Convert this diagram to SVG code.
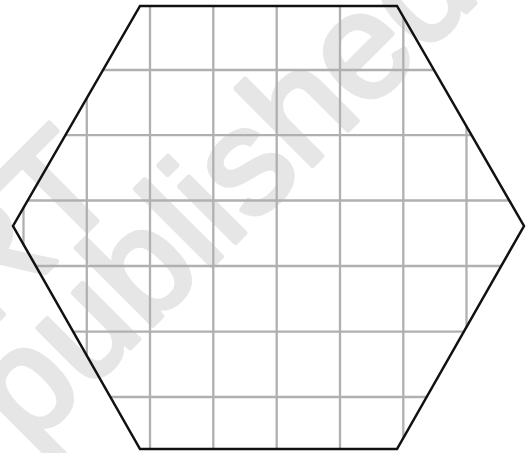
<svg xmlns="http://www.w3.org/2000/svg" width="528" height="453" viewBox="0 0 528 453">
<style>
.wm{font-family:"Liberation Sans",Arial,sans-serif;fill:#e6e6e6;stroke:#e6e6e6;stroke-width:5;stroke-linejoin:round}
.grid line{stroke:#b2afaf;stroke-width:2.3}
.hex{fill:none;stroke:#111;stroke-width:2.5;stroke-linejoin:miter}
</style>
<defs>
<clipPath id="hc"><polygon points="140,6 397,6 524,226 397,449 140,449 13,226"/></clipPath>
</defs>
<rect width="528" height="453" fill="#fff"/>
<g id="watermark">
<text class="wm" font-size="150" transform="translate(28,450) rotate(-45)">published</text>
<text class="wm" font-size="150" transform="translate(-15,333) rotate(-45)">RT</text>
</g>
<g class="grid" clip-path="url(#hc)">
<line x1="23.5" y1="0" x2="23.5" y2="453"/>
<line x1="86.8" y1="0" x2="86.8" y2="453"/>
<line x1="150" y1="0" x2="150" y2="453"/>
<line x1="213.3" y1="0" x2="213.3" y2="453"/>
<line x1="276.7" y1="0" x2="276.7" y2="453"/>
<line x1="340" y1="0" x2="340" y2="453"/>
<line x1="403.3" y1="0" x2="403.3" y2="453"/>
<line x1="466.5" y1="0" x2="466.5" y2="453"/>
<line x1="0" y1="70" x2="528" y2="70"/>
<line x1="0" y1="135.2" x2="528" y2="135.2"/>
<line x1="0" y1="200.5" x2="528" y2="200.5"/>
<line x1="0" y1="266" x2="528" y2="266"/>
<line x1="0" y1="331.7" x2="528" y2="331.7"/>
<line x1="0" y1="397" x2="528" y2="397"/>
</g>
<g id="hexagon">
<polygon class="hex" points="140,6 397,6 524,226 397,449 140,449 13,226"/>
</g>
<g id="connectors"></g>
</svg>
